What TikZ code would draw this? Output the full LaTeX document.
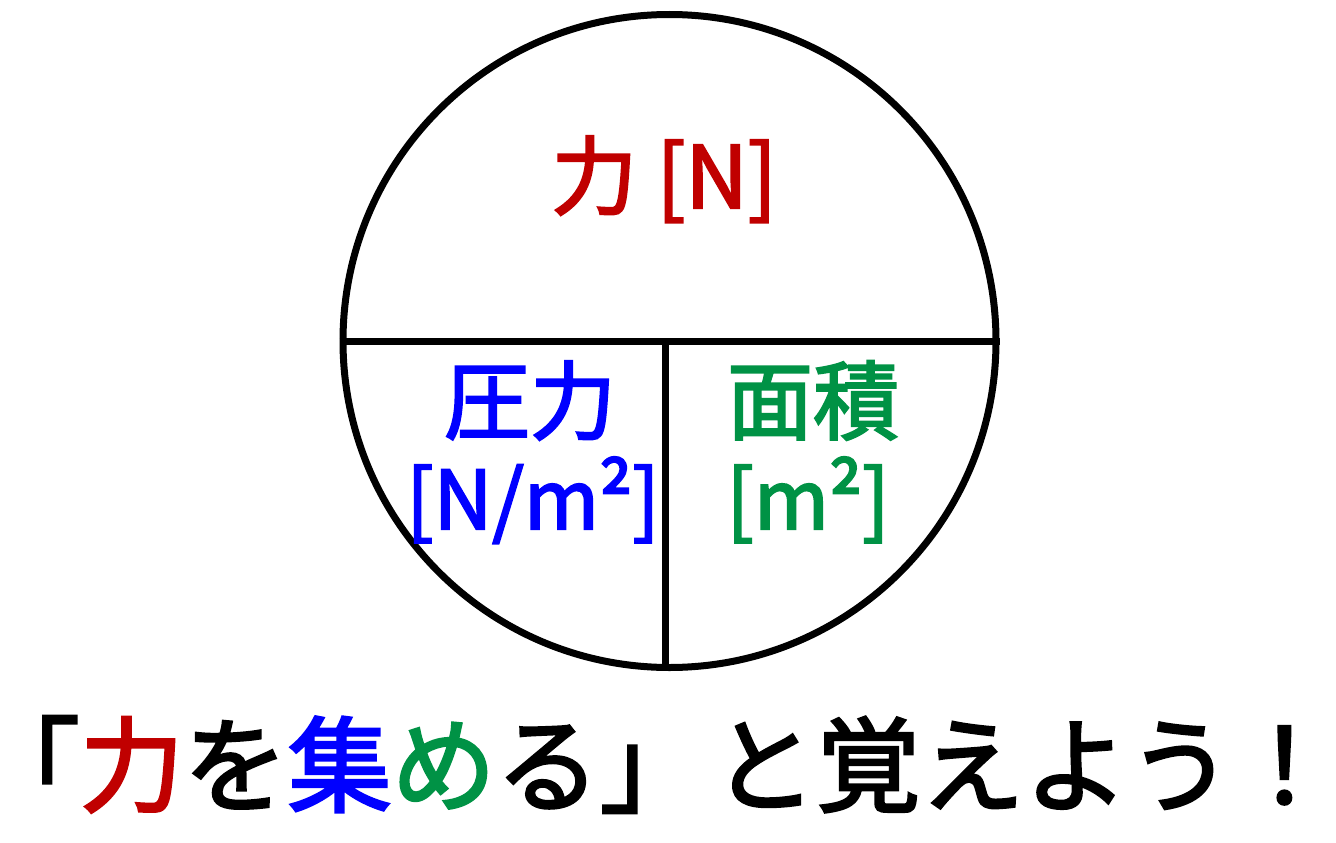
\documentclass[tikz,border=0pt]{standalone}
\usepackage{fontspec}
\setmainfont{Noto Sans CJK JP}[FakeBold=2.5]
\definecolor{tred}{RGB}{192,0,0}
\definecolor{tblue}{RGB}{0,0,255}
\definecolor{tgreen}{RGB}{0,146,69}
\begin{document}
\begin{tikzpicture}[x=1pt,y=-1pt,
  lbl/.style={inner sep=0pt, anchor=base},
  mid/.style={font=\fontsize{86}{86}\selectfont},
  unit/.style={font=\fontsize{81}{81}\selectfont},
  big/.style={font=\fontsize{104}{104}\selectfont},
  rule/.style={line width=7pt}]
\useasboundingbox[fill=white] (0,0) rectangle (1336,843);
\node[circle, draw, rule, minimum size=653pt, inner sep=0pt] (c) at (669.5,341) {};
\draw[rule] (c.west) -- (c.east);
\coordinate (m) at (665,341);
\draw[rule] (m) -- (m |- c.south);
\node[lbl, mid, text=tred] (f) at (664,208) {力 [N]};
\node[lbl, mid, text=tblue] (p1) at (530,433) {圧力};
\node[lbl, unit, text=tblue] (p2) at (533,529) {[N/m²]};
\node[lbl, mid, text=tgreen] (a1) at (813,433) {面積};
\node[lbl, unit, text=tgreen] (a2) at (808,529) {[m²]};
\node[lbl, big, anchor=base west] (t1) at (38,804) {\kern-0.6em「{\color{tred}力}を{\color{tblue}集}{\color{tgreen}め}る」};
\node[lbl, big, anchor=base east] (t2) at (1295,804) {と覚えよう！\kern-0.4em};
\end{tikzpicture}
\end{document}
